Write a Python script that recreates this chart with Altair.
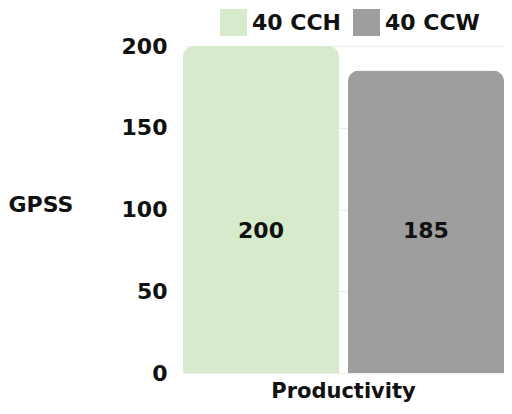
import altair as alt
import pandas as pd

categories = ["Productivity", "Productivity"]
series = ["40 CCH", "40 CCW"]
values = [200, 185]
colors = ["#d7eacb", "#9e9e9e"]
y_ticks = [0, 50, 100, 150, 200]

df = pd.DataFrame({"cat": categories, "series": series, "value": values})

FONT = "DejaVu Sans"
FS = 22

base = alt.Chart(df).encode(
    x=alt.X("cat:N", title=None,
            scale=alt.Scale(paddingInner=0, paddingOuter=0),
            axis=alt.Axis(labelAngle=0, labelFont=FONT, labelFontWeight="bold",
                          labelFontSize=21, labelColor="#111111", labelPadding=7,
                          labelBaseline="top",
                          ticks=False, domain=False, grid=False)),
    xOffset=alt.XOffset("series:N", scale=alt.Scale(paddingInner=0.054, paddingOuter=0)),
)

bars = base.mark_bar(cornerRadiusTopLeft=11, cornerRadiusTopRight=11).encode(
    y=alt.Y("value:Q", scale=alt.Scale(domain=[0, 200], nice=False),
            axis=alt.Axis(values=y_ticks, title="GPSS", titleAngle=0, titleAlign="left",
                          titleBaseline="middle", titleX=-175, titleY=158,
                          titleFont=FONT, titleFontWeight="bold", titleFontSize=FS,
                          titleColor="#111111",
                          labelFont=FONT, labelFontWeight="bold", labelFontSize=FS,
                          labelColor="#111111", labelPadding=16,
                          ticks=False, domain=False, gridColor="#eeeeee", gridWidth=1)),
    color=alt.Color("series:N", scale=alt.Scale(domain=series, range=colors),
                    legend=alt.Legend(title=None, orient="none", direction="horizontal",
                                      legendX=37, legendY=-37, symbolType="square",
                                      symbolSize=729, symbolStrokeWidth=0,
                                      symbolOpacity=1,
                                      labelFont=FONT, labelFontWeight="bold",
                                      labelFontSize=FS, labelColor="#111111",
                                      labelOffset=5, columnPadding=12, padding=0)),
)

labels = base.mark_text(font=FONT, fontWeight="bold", fontSize=FS, color="#111111",
                        baseline="middle").encode(
    y=alt.datum(87),
    text=alt.Text("value:Q"),
)

chart = alt.layer(bars, labels).properties(
    width=321, height=327,
    autosize=alt.AutoSizeParams(type="none"),
    padding={"left": 175, "top": 38, "right": 0, "bottom": 33},
).configure_view(stroke=None)

chart.save("out.html", embed_options={"renderer": "svg", "actions": False})
